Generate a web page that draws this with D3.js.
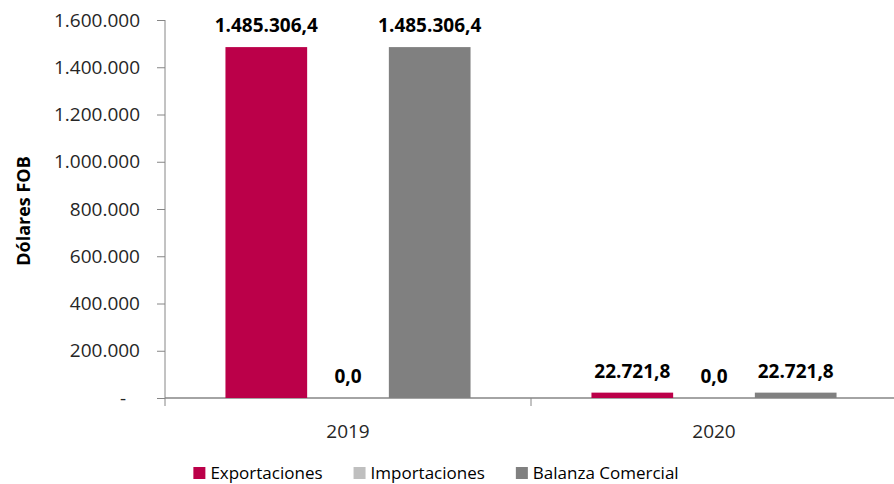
<!DOCTYPE html>
<html>
	<head>
		<meta charset="utf-8"/>
		<title>Balanza comercial</title>
		<script src="https://d3js.org/d3.v7.min.js"></script>
	</head>
	<style>
	body{
		margin:0;
		background:#fff;
	}
	#well text{
		font-family:"Open Sans", "Noto Sans", sans-serif;
	}
	</style>
	<body>
	<div id='well'></div>
	<script>
		var years = ['2019', '2020'];
		var series = ['Exportaciones', 'Importaciones', 'Balanza Comercial'];
		var exportaciones = [1485306.4, 22721.8];
		var importaciones = [0, 0];
		var balanza = [1485306.4, 22721.8];
		var yTicks = [0, 200000, 400000, 600000, 800000, 1000000, 1200000, 1400000, 1600000];
		var colors = ['#BB0049', '#BFBFBF', '#808080'];

		var width = 894;
		var height = 484;
		var values = [exportaciones, importaciones, balanza];

		// es-CO style numbers: dot for thousands, comma for decimals
		var locale = d3.formatLocale({decimal: ',', thousands: '.', grouping: [3], currency: ['$', '']});
		var fmtTick = locale.format(',.0f');
		var fmtLabel = locale.format(',.1f');

		var svg = d3.select('#well')
			.append('svg')
			.attr('width', width)
			.attr('height', height);

		var x = d3.scaleBand()
			.domain(years)
			.range([165, 897]);

		var xInner = d3.scaleBand()
			.domain(series)
			.range([0, x.bandwidth()])
			.paddingOuter(0.74);

		var y = d3.scaleLinear()
			.domain([0, 1600000])
			.range([398, 20]);

		// y axis
		var yAxis = d3.axisLeft(y)
			.tickValues(yTicks)
			.tickSize(8)
			.tickPadding(17)
			.tickFormat(function(d){ return d === 0 ? '-' : fmtTick(d); });

		var gy = svg.append('g')
			.attr('transform', 'translate(165,0)')
			.call(yAxis);
		gy.select('.domain').remove();
		gy.selectAll('line').attr('stroke', '#868686');
		gy.selectAll('text')
			.attr('fill', '#262626')
			.style('font-size', '19px');
		gy.selectAll('.tick').filter(function(d){ return d === 0; })
			.select('text').attr('x', -39);

		svg.append('line')
			.attr('x1', 165).attr('x2', 165)
			.attr('y1', y(1600000)).attr('y2', 406)
			.attr('stroke', '#868686');

		// x axis
		svg.append('line')
			.attr('x1', 165).attr('x2', width)
			.attr('y1', y(0)).attr('y2', y(0))
			.attr('stroke', '#868686')
			.attr('stroke-width', 1.5);

		svg.selectAll('.xsep')
			.data(years.slice(1))
			.enter().append('line')
			.attr('x1', function(d){ return x(d); })
			.attr('x2', function(d){ return x(d); })
			.attr('y1', y(0))
			.attr('y2', 406)
			.attr('stroke', '#868686');

		svg.selectAll('.xlabel')
			.data(years)
			.enter().append('text')
			.attr('x', function(d){ return x(d) + x.bandwidth() / 2; })
			.attr('y', 438)
			.attr('text-anchor', 'middle')
			.attr('fill', '#262626')
			.style('font-size', '19px')
			.text(function(d){ return d; });

		// bars and labels
		var cells = [];
		years.forEach(function(yr, i){
			series.forEach(function(s, j){
				cells.push({year: yr, serie: s, value: values[j][i], color: colors[j]});
			});
		});

		svg.selectAll('.bar')
			.data(cells)
			.enter().append('rect')
			.attr('x', function(d){ return x(d.year) + xInner(d.serie); })
			.attr('y', function(d){ return y(d.value); })
			.attr('width', xInner.bandwidth())
			.attr('height', function(d){ return y(0) - y(d.value); })
			.attr('fill', function(d){ return d.color; });

		svg.selectAll('.lbl')
			.data(cells)
			.enter().append('text')
			.attr('x', function(d){ return x(d.year) + xInner(d.serie) + xInner.bandwidth() / 2; })
			.attr('y', function(d){ return y(d.value) - 15; })
			.attr('text-anchor', 'middle')
			.attr('fill', '#000')
			.style('font-size', '19px')
			.style('font-weight', 'bold')
			.text(function(d){ return fmtLabel(d.value); });

		// y title
		svg.append('text')
			.attr('transform', 'translate(30,211) rotate(-90)')
			.attr('text-anchor', 'middle')
			.attr('fill', '#000')
			.style('font-size', '18px')
			.style('font-weight', 'bold')
			.text('Dólares FOB');

		// legend
		var legend = svg.append('g');
		var items = legend.selectAll('g')
			.data(series)
			.enter().append('g');
		items.append('rect')
			.attr('y', 467)
			.attr('width', 12)
			.attr('height', 12)
			.attr('fill', function(d, i){ return colors[i]; });
		items.append('text')
			.attr('x', 17)
			.attr('y', 479)
			.attr('fill', '#000')
			.style('font-size', '17px')
			.text(function(d){ return d; });

		var cursor = 0;
		items.each(function(){
			var g = d3.select(this);
			g.attr('transform', 'translate(' + cursor + ',0)');
			cursor += 17 + g.select('text').node().getComputedTextLength() + 31;
		});
		var legendWidth = cursor - 31;
		legend.attr('transform', 'translate(' + (436 - legendWidth / 2) + ',0)');
	</script>
	</body>
</html>
